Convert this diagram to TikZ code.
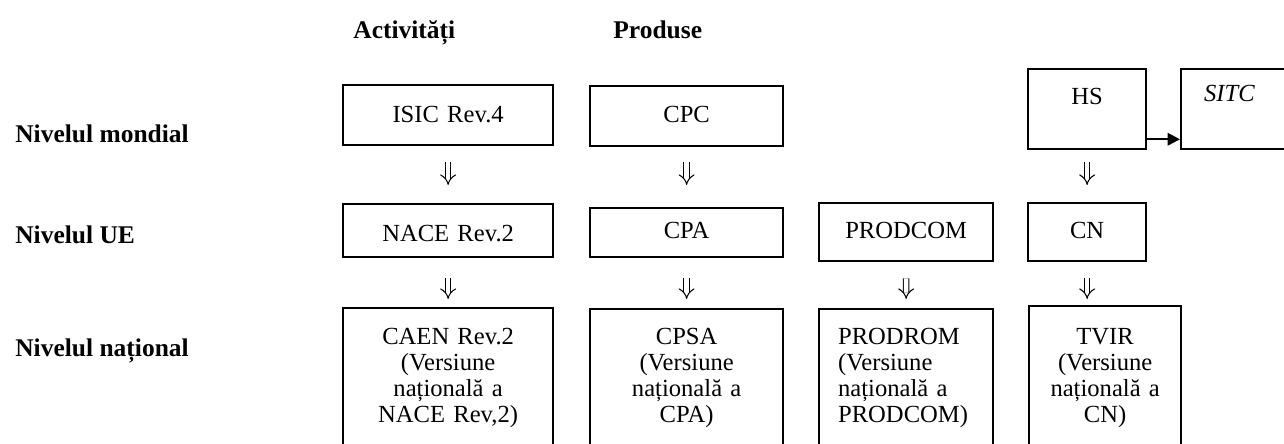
\documentclass[tikz,border=0pt]{standalone}
\usepackage{fontspec}
\setmainfont{Liberation Serif}
\usetikzlibrary{positioning,arrows.meta}

\begin{document}
\begin{tikzpicture}[
  x=0.02cm, y=-0.02cm,
  font=\fontsize{14pt}{14.8pt}\selectfont,
  cls/.style={draw, line width=1.3pt, inner sep=0pt, anchor=north west, align=center},
  hdr/.style={font=\fontsize{14.5pt}{16pt}\selectfont\bfseries, inner sep=0pt, anchor=base west},
  lvl/.style={font=\fontsize{14.5pt}{16pt}\selectfont\bfseries, inner sep=0pt, anchor=base west},
  dn/.style={double, double distance=2.6pt, line width=0.6pt, -{Implies}},
  arr/.style={-{Triangle[length=7pt, width=7pt]}, line width=1.2pt},
]
\useasboundingbox (0,0) rectangle (1284,443);
\clip (0,0) rectangle (1284,443);

% Column headers
\node[hdr] (hact)  at (353,38) {Activități};
\node[hdr] (hprod) at (613,38) {Produse};

% Levels
\node[lvl] (lmond) at (15,142) {Nivelul mondial};
\node[lvl] (lue)   at (15,243) {Nivelul UE};
\node[lvl] (lnat)  at (15,356) {Nivelul național};

% World level
\node[cls, text width=4.2cm,  text height=0.74cm, text depth=0.46cm] (isic) at (342,84)  {ISIC Rev.4};
\node[cls, text width=3.86cm, text height=0.72cm, text depth=0.48cm] (cpc)  at (589,85)  {CPC};
\node[cls, text width=2.36cm, text height=0.70cm, text depth=0.90cm] (hs)   at (1027,68) {HS};
\node[cls, align=left, inner xsep=0.46cm, text width=2.4cm,
      text height=0.64cm, text depth=0.96cm] (sitc) at (1180,68) {\textit{SITC}};

% EU level
\node[cls, text width=4.2cm,  text height=0.74cm, text depth=0.32cm] (nace)    at (342,203) {NACE Rev.2};
\node[cls, text width=3.86cm, text height=0.60cm, text depth=0.38cm] (cpa)     at (589,207) {CPA};
\node[cls, text width=3.48cm, text height=0.70cm, text depth=0.46cm] (prodcom) at (818,202) {PRODCOM};
\node[cls, text width=2.36cm, text height=0.70cm, text depth=0.46cm] (cn)      at (1027,202) {CN};

% National level (boxes run past the bottom edge)
\node[cls, text width=4.2cm,  text height=0.72cm, text depth=2.6cm] (caen) at (342,307)
  {CAEN Rev.2\\(Versiune\\națională a\\NACE Rev,2)};
\node[cls, text width=3.86cm, text height=0.70cm, text depth=2.6cm] (cpsa) at (589,308)
  {CPSA\\(Versiune\\națională a\\CPA)};
\node[cls, align=left, inner xsep=0.38cm, text width=2.72cm,
      text height=0.70cm, text depth=2.6cm] (prodrom) at (818,308)
  {PRODROM\\(Versiune\\națională a\\PRODCOM)};
\node[cls, text width=3.04cm, text height=0.76cm, text depth=2.6cm] (tvir) at (1028,305)
  {TVIR\\(Versiune\\națională a\\CN)};

% Arrows
\draw[arr] ([yshift=0.22cm]hs.south east) -- ([yshift=0.22cm]hs.south east -| sitc.west);

\draw[dn, shorten <=0.32cm, shorten >=0.36cm] (isic) -- (nace);
\draw[dn, shorten <=0.30cm, shorten >=0.44cm] (cpc) -- (cpa);
\draw[dn, shorten <=0.24cm, shorten >=0.34cm] (hs) -- (cn);

\draw[dn, shorten <=0.40cm, shorten >=0.16cm] (nace) -- (caen);
\draw[dn, shorten <=0.40cm, shorten >=0.18cm] (cpa) -- (cpsa);
\draw[dn, shorten <=0.32cm, shorten >=0.18cm] (prodcom) -- (prodrom);
\draw[dn, shorten <=0.32cm, shorten >=0.12cm] (cn.south) -- (cn.south |- tvir.north);

\end{tikzpicture}
\end{document}
